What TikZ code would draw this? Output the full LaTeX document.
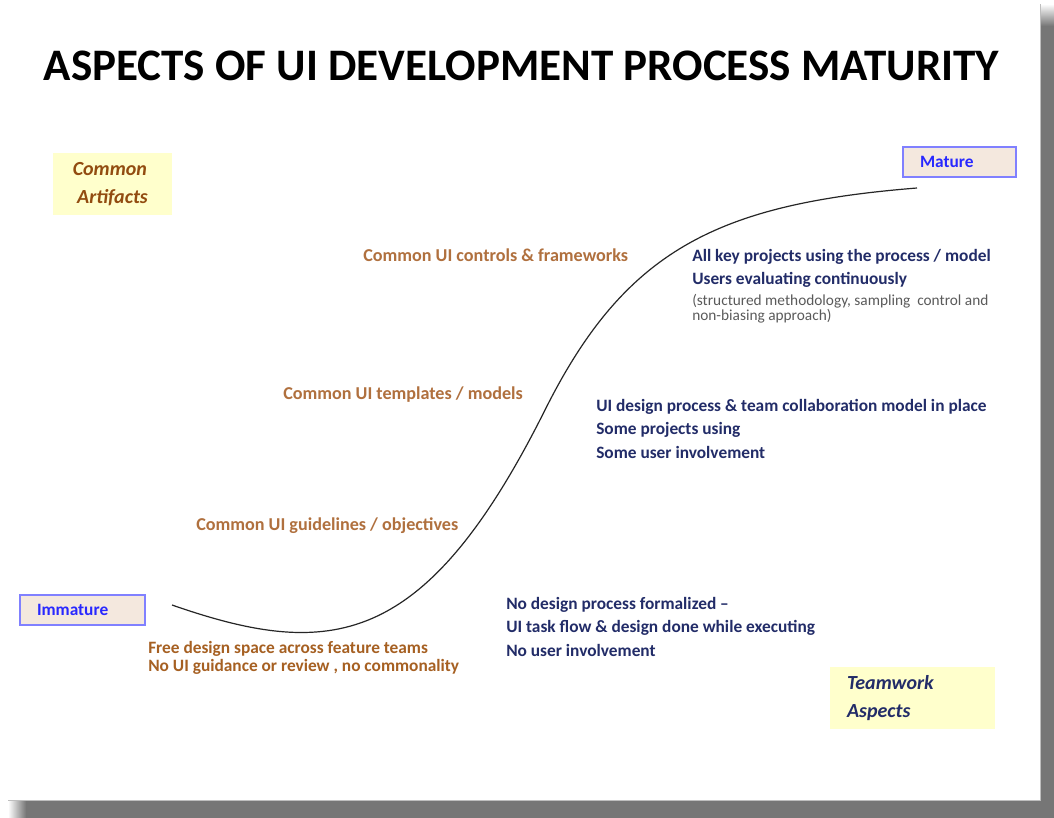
\documentclass[tikz,border=0pt]{standalone}
\usepackage{fontspec}
\setmainfont{Carlito}
\usetikzlibrary{positioning}

\definecolor{shadowgray}{RGB}{118,118,118}
\definecolor{edgegray}{RGB}{190,190,190}
\definecolor{labelbrown}{RGB}{176,112,62}
\definecolor{freebrown}{RGB}{166,96,34}
\definecolor{artbrown}{RGB}{146,76,16}
\definecolor{teamnavy}{RGB}{34,44,104}
\definecolor{notegray}{RGB}{90,90,90}
\definecolor{stagefill}{RGB}{244,232,222}
\definecolor{stageedge}{RGB}{128,128,255}
\definecolor{stagetext}{RGB}{40,40,255}
\definecolor{notefill}{RGB}{255,255,204}

\begin{document}
\begin{tikzpicture}[x=0.75pt,y=-0.75pt,
  stage/.style={draw=stageedge,line width=1.2pt,fill=stagefill,text=stagetext,
    font=\fontsize{13}{16}\selectfont\bfseries,align=left,
    inner xsep=12.75pt,inner ysep=0pt,minimum height=22.5pt},
  aspect/.style={fill=notefill,font=\fontsize{15}{20.5}\selectfont\bfseries\itshape,
    inner sep=0pt,minimum height=46.5pt},
  brownlabel/.style={text=labelbrown,font=\fontsize{13.6}{17}\selectfont\bfseries,
    inner sep=0pt,anchor=base west},
  navylabel/.style={text=teamnavy,font=\fontsize{13}{17.6}\selectfont\bfseries,
    inner sep=0pt,anchor=north west,align=left},
  curve/.style={draw={black!85},line width=0.9pt}]
\useasboundingbox (0,0) rectangle (1054,818);

% page and its shadow
\shade[top color=white,bottom color=shadowgray] (1040,4) rectangle (1054,26);
\fill[shadowgray] (1040,26) rectangle (1054,818);
\shade[left color=white,right color=shadowgray] (8,800) rectangle (26,818);
\fill[shadowgray] (26,800) rectangle (1054,818);
\fill[white] (0,0) rectangle (1040,800);
\draw[edgegray,line width=0.6pt] (1040,4) -- (1040,800) -- (8,800);

\node[anchor=base,font=\fontsize{33.8}{40}\selectfont\bfseries] (title) at (521.5,80)
  {ASPECTS OF UI DEVELOPMENT PROCESS MATURITY};

% stages
\node[stage,text width=68.25pt] (immature) at (82.5,610) {Immature};
\node[stage,text width=59.25pt] (mature) at (959.5,162) {Mature};

% legend boxes
\node[aspect,text=artbrown,minimum width=89.25pt,align=center] (artifacts) at (112.5,184)
  {Common\hspace*{4pt}\\ Artifacts};
\node[aspect,text=teamnavy,minimum width=123.75pt,align=left,inner xsep=12.75pt,
  text width=98.25pt] (teamwork) at (912.5,698) {Teamwork\\ Aspects};

% maturity curve
\coordinate (lowend) at (172,605);
\coordinate (bend) at (545,410);
\coordinate (highend) at (917,188);
\draw[curve] (lowend) .. controls (330,660) and (425,650) .. (bend)
  .. controls (625,250) and (717,204) .. (highend);

% artifacts
\node[brownlabel] (controls) at (363,261) {Common UI controls \& frameworks};
\node[brownlabel] (templates) at (283,399) {Common UI templates / models};
\node[brownlabel] (guidelines) at (196,530) {Common UI guidelines / objectives};
\node[brownlabel,text=freebrown,anchor=north west,align=left,
  font=\fontsize{13}{13.5}\selectfont\bfseries] (freespace) at (148,641)
  {Free design space across feature teams\\ No UI guidance or review , no commonality};

% teamwork
\node[navylabel] (allkey) at (692,249)
  {All key projects using the process / model\\ Users evaluating continuously};
\node[navylabel,text=notegray,font=\fontsize{11.5}{11.25}\selectfont] (method) at (692,294)
  {(structured methodology, sampling\ \ control and\\ non-biasing approach)};
\node[navylabel] (process) at (596,399)
  {UI design process \& team collaboration model in place\\ Some projects using\\
   Some user involvement};
\node[navylabel] (noprocess) at (506,597)
  {No design process formalized --\\ UI task flow \& design done while executing\\
   No user involvement};
\end{tikzpicture}
\end{document}
